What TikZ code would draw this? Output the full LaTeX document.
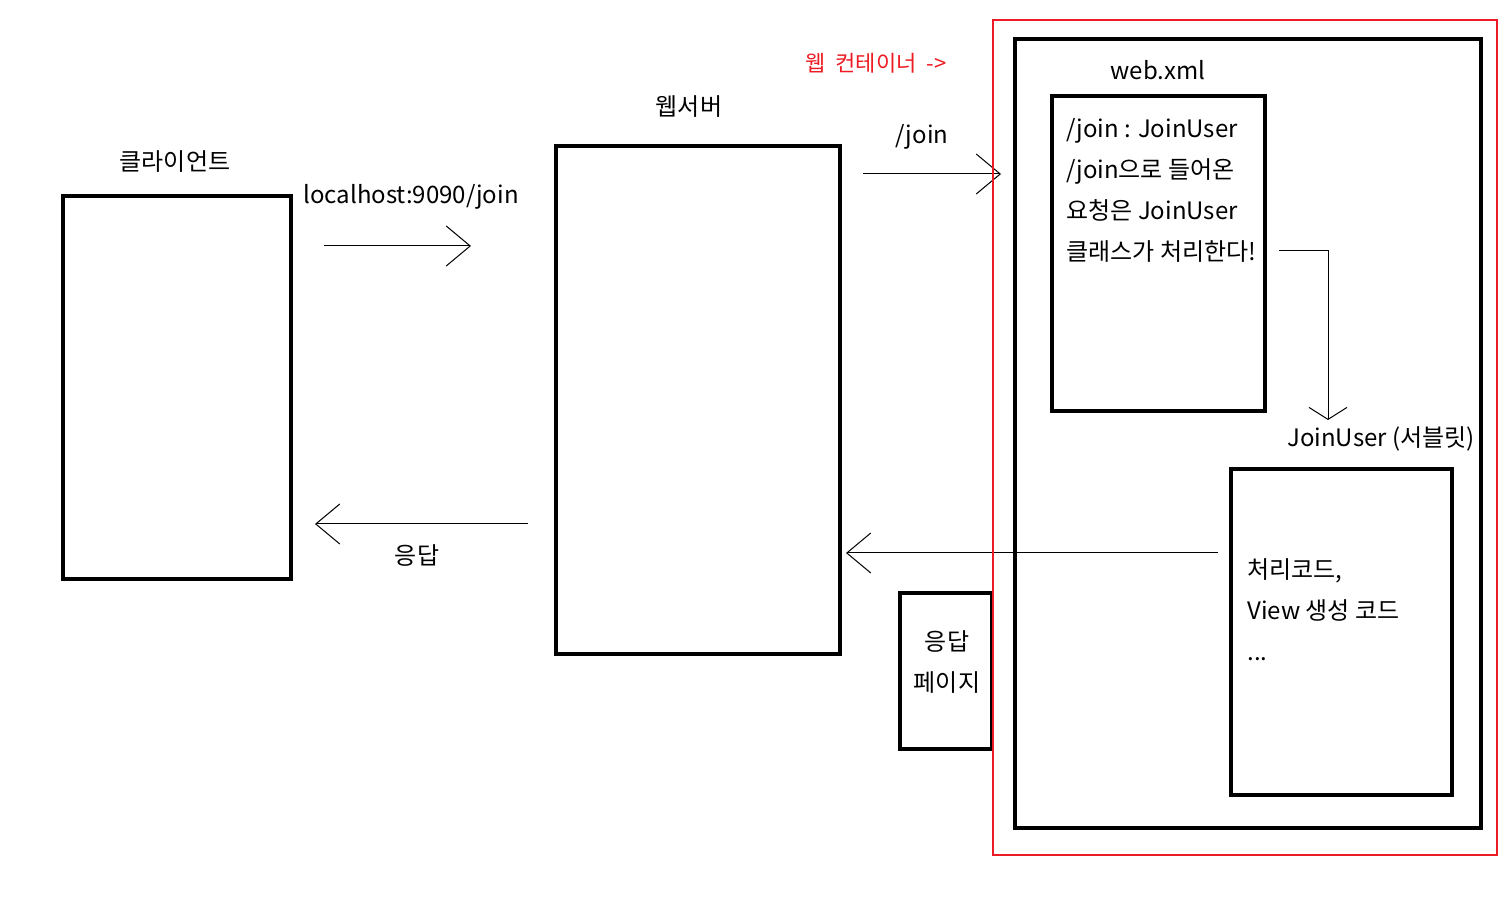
\documentclass[tikz,border=0pt]{standalone}
\usepackage{fontspec}
\setmainfont{Noto Sans CJK KR}
\usetikzlibrary{arrows.meta,positioning}
\definecolor{paintred}{HTML}{ED1C24}

\begin{document}
\begin{tikzpicture}[x=0.5pt,y=-0.5pt,
    font=\fontsize{12}{20.5}\selectfont,
    box/.style={draw,line width=2pt,inner sep=0pt},
    frame/.style={draw=paintred,line width=1.4pt,inner sep=0pt},
    lbl/.style={inner sep=0pt},
    barb/.style={-{Straight Barb[length=12pt,width=20pt]},line width=0.5pt}
]
\useasboundingbox (0,0) rectangle (1512,898);

% boxes
\node[box,minimum width=114pt,minimum height=191.5pt] (client) at (177,387.5) {};
\node[box,minimum width=142pt,minimum height=254pt] (server) at (698,400) {};
\node[box,minimum width=233pt,minimum height=394.5pt] (inner) at (1248,433.5) {};
\node[box,minimum width=106.5pt,minimum height=157.5pt] (webxml) at (1158.5,253.5) {};
\node[box,minimum width=110.5pt,minimum height=163pt] (servlet) at (1341.5,632) {};
\node[box,minimum width=46pt,minimum height=78pt] (page) at (946,671) {};

% labels
\node[lbl] (clientlbl) at (175,162) {클라이언트};
\node[lbl] (serverlbl) at (689,107) {웹서버};
\node[lbl] (urllbl) at (411,197) {localhost:9090/join};
\node[lbl] (resplbl) at (417,556) {응답};
\node[lbl] (joinlbl) at (922,137) {/join};
\node[lbl,text=paintred,font=\fontsize{11}{12}\selectfont] (contlbl) at (876,63) {웹\ \ 컨테이너 \ -\textgreater};
\node[lbl] (xmllbl) at (1158,70) {web.xml};
\node[lbl,align=left,anchor=west] (mapping) at (1066,190.5)
    {/join : JoinUser\\/join으로 들어온\\요청은 JoinUser\\클래스가 처리한다!};
\node[lbl] (servletlbl) at (1381,439) {JoinUser (서블릿)};
\node[lbl,align=left,anchor=west] (code) at (1247,610)
    {처리코드,\\View 생성 코드\\...};
\node[lbl,align=center] (pagelbl) at (947,662) {응답\\페이지};

% arrows
\coordinate (reqA) at (324,246);
\coordinate (reqB) at (471,246);
\coordinate (joinA) at (863,174);
\coordinate (joinB) at (1001,174);
\coordinate (respA) at (528,524);
\coordinate (respB) at (315,524);
\coordinate (backA) at (1218,553);
\coordinate (backB) at (846,553);
\coordinate (mapA) at (1279,251);
\coordinate (mapB) at (1328,420);
\draw[barb] (reqA) -- (reqB);
\draw[barb] (joinA) -- (joinB);
\draw[barb] (respA) -- (respB);
\draw[barb] (backA) -- (backB);
\draw[-{Straight Barb[length=6pt,width=19pt]},line width=0.5pt] (mapA) -| (mapB);

% web container
\node[frame,minimum width=252pt,minimum height=417.5pt] (container) at (1245,437.5) {};
\end{tikzpicture}
\end{document}
